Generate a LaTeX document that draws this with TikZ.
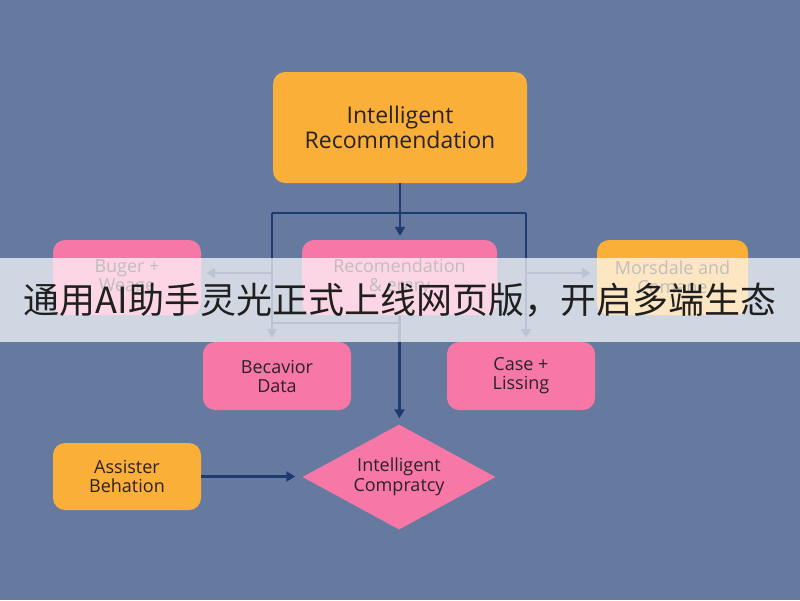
\documentclass[tikz,border=0pt]{standalone}
\usepackage{fontspec}
\setmainfont{Open Sans}
\newfontfamily\cjk{Noto Sans CJK SC}
\usetikzlibrary{arrows.meta, positioning, shapes.geometric}
\definecolor{bgblue}{HTML}{667AA0}
\definecolor{linenavy}{HTML}{1F3A6E}
\definecolor{boxorange}{HTML}{F9AF38}
\definecolor{boxpink}{HTML}{F778A7}
\definecolor{txtdark}{HTML}{2A2226}
\tikzset{
  card/.style={rounded corners=12pt, align=center, text=txtdark, inner sep=3pt,
               minimum width=148pt, minimum height=75pt, font=\fontsize{18}{19}\selectfont},
  pinkcard/.style={card, fill=boxpink},
  orangecard/.style={card, fill=boxorange},
  link/.style={line width=2.2pt, draw=linenavy},
  flow/.style={link, -{Triangle[length=9pt, width=10pt]}},
}

\begin{document}
\begin{tikzpicture}[x=1pt, y=-1pt]
  \fill[bgblue] (0,0) rectangle (800,600);
  \useasboundingbox (0,0) rectangle (800,600);
  % boxes
  \node (top) [orangecard, minimum width=254pt, minimum height=111pt,
               font=\fontsize{23}{25}\selectfont] at (400,127.5) {Intelligent\\Recommendation};
  \node (bug) [pinkcard] at (127,277.5) {Buger +\\Weage};
  \node (rec) [pinkcard, minimum width=195pt] at (399.5,277.5) {Recomendation\\\& erary};
  \node (mors) [orangecard, minimum width=151pt] at (672.5,277.5) {Morsdale and\\Comane};
  \node (beh) [pinkcard, minimum height=68pt] at (277,376) {Becavior\\Data};
  \node (case) [pinkcard, minimum height=68pt] at (521,376) {Case +\\Lissing};
  \node (asst) [orangecard, minimum height=67pt] at (127,476.5) {Assister\\Behation};
  \node (cmp) [diamond, fill=boxpink, text=txtdark, align=center, inner sep=0pt, aspect=1.85,
               minimum width=193pt, minimum height=105pt,
               font=\fontsize{18}{20}\selectfont] at (399,477) {Intelligent\\Compratcy};
  % connectors
  \coordinate (jl) at (272,213);
  \coordinate (jr) at (526,213);
  \coordinate (bl) at (272,273);
  \coordinate (br) at (526,273);
  \coordinate (ml) at (272,323);
  \draw[flow, shorten >=4pt] (top.south) -- (top.south |- rec.north);
  \draw[link] (jl) -- (jr);
  \draw[flow, shorten >=4pt] (jl) -- (jl |- beh.north);
  \draw[flow, shorten >=4pt] (jr) -- (jr |- case.north);
  \draw[flow, shorten >=5pt] (bl) -- (bl -| bug.east);
  \draw[flow, shorten >=6pt] (br) -- (br -| mors.west);
  \draw[link] (ml) -- (ml -| rec.south);
  \draw[flow, shorten >=6pt] (rec.south) -- (rec.south |- cmp.north);
  \draw[flow, shorten >=7pt] (asst.east) -- (asst.east -| cmp.west);
  % caption band
  \node (band) [fill=white, fill opacity=0.7, text opacity=1, text=black!88,
                minimum width=800pt, minimum height=84pt, inner sep=0pt,
                font=\cjk\fontsize{36}{40}\selectfont] at (400,300)
                {通用AI助手灵光正式上线网页版，开启多端生态};
\end{tikzpicture}
\end{document}
